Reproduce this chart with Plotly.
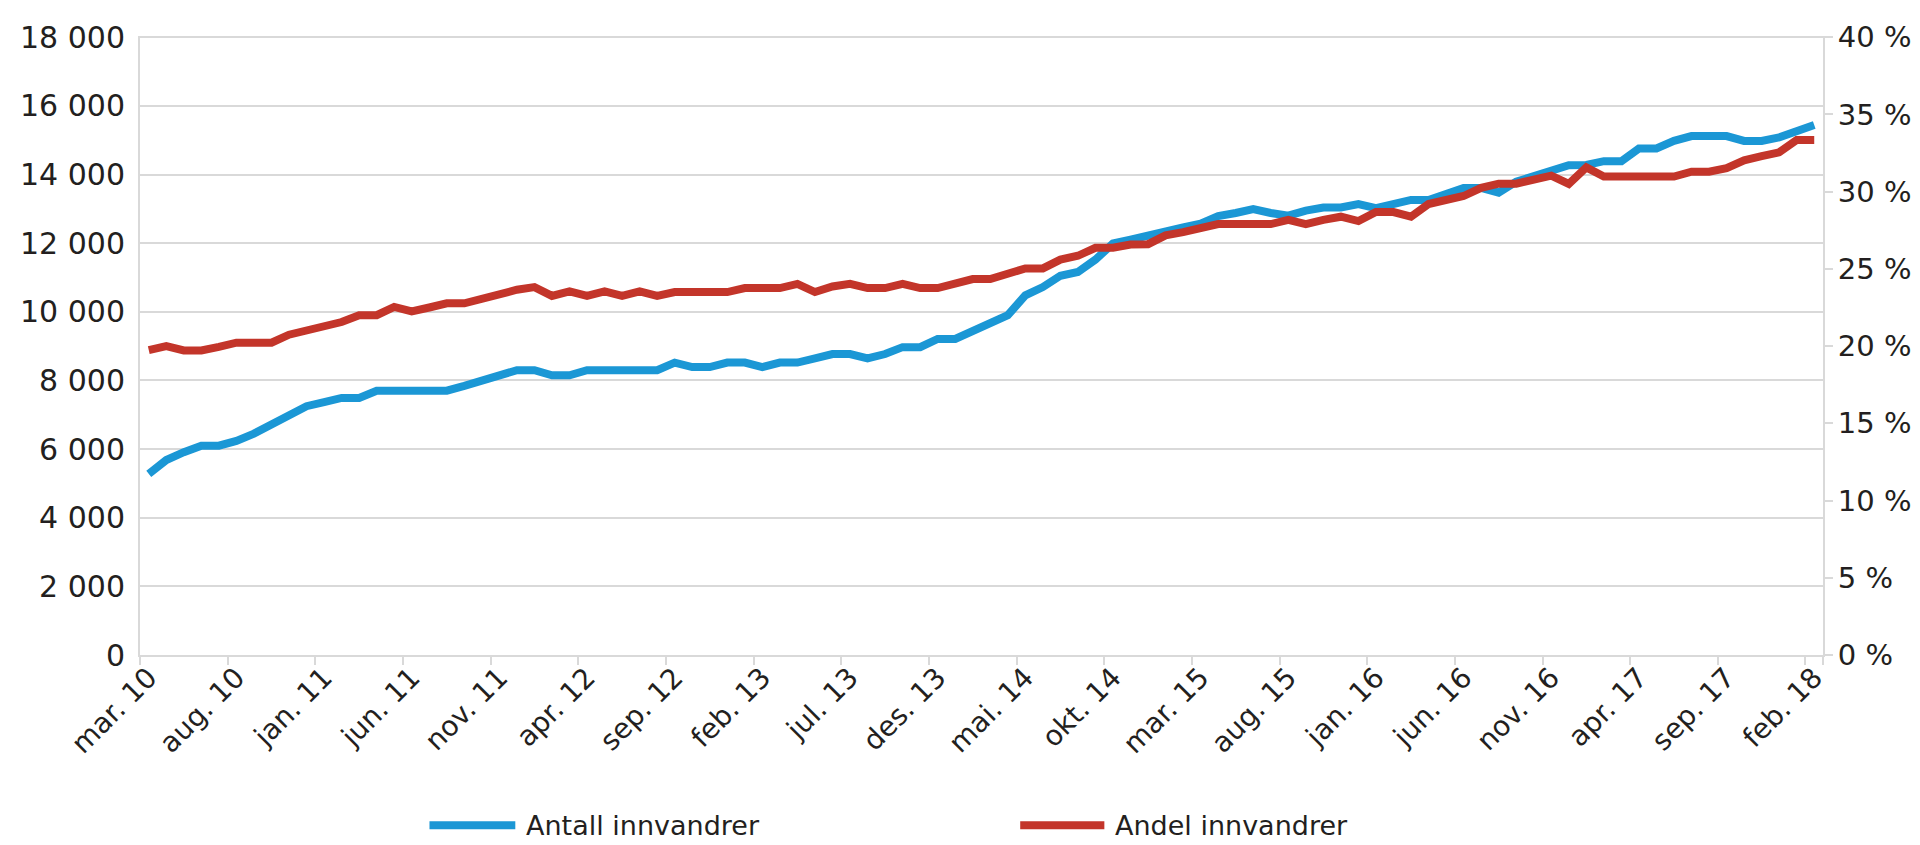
import plotly.graph_objects as go

# Monthly categories mar. 10 .. feb. 18 (96 months)
month_names = ["jan.", "feb.", "mar.", "apr.", "mai.", "jun.", "jul.", "aug.", "sep.", "okt.", "nov.", "des."]
months = [f"{month_names[(2 + k) % 12]} {10 + (2 + k) // 12}" for k in range(96)]

tick_labels = ["mar. 10", "aug. 10", "jan. 11", "jun. 11", "nov. 11", "apr. 12", "sep. 12",
               "feb. 13", "jul. 13", "des. 13", "mai. 14", "okt. 14", "mar. 15", "aug. 15",
               "jan. 16", "jun. 16", "nov. 16", "apr. 17", "sep. 17", "feb. 18"]

left_ticks = [0, 2000, 4000, 6000, 8000, 10000, 12000, 14000, 16000, 18000]
right_ticks = [0, 5, 10, 15, 20, 25, 30, 35, 40]

antall = [5280, 5680, 5910, 6100, 6100, 6240, 6450, 6710, 6950, 7250,
          7370, 7490, 7490, 7700, 7700, 7700, 7700, 7700, 7840, 7980,
          8130, 8300, 8300, 8150, 8150, 8300, 8300, 8300, 8300, 8300,
          8520, 8390, 8390, 8520, 8520, 8390, 8520, 8520, 8640, 8770,
          8770, 8640, 8770, 8970, 8970, 9210, 9210, 9430, 9680, 9900,
          10480, 10720, 11050, 11160, 11520, 11990, 12100, 12240, 12360, 12460,
          12570, 12790, 12880, 12990, 12880, 12800, 12950, 13040, 13040, 13140,
          13020, 13140, 13260, 13260, 13420, 13610, 13610, 13470, 13790, 13950,
          14080, 14270, 14280, 14390, 14390, 14760, 14760, 14980, 15120, 15120,
          15120, 14980, 14980, 15080, 15230, 15440]

andel = [19.74, 20.0, 19.72, 19.72, 19.95, 20.22, 20.22, 20.22, 20.74, 20.99,
         21.27, 21.56, 22.0, 22.0, 22.54, 22.25, 22.5, 22.77, 22.77, 23.09,
         23.4, 23.65, 23.82, 23.25, 23.55, 23.25, 23.55, 23.25, 23.55, 23.25,
         23.5, 23.5, 23.5, 23.5, 23.76, 23.76, 23.76, 24.03, 23.5, 23.86,
         24.03, 23.76, 23.76, 24.03, 23.76, 23.76, 24.07, 24.34, 24.34, 24.65,
         25.03, 25.03, 25.6, 25.85, 26.37, 26.37, 26.58, 26.6, 27.17, 27.38,
         27.63, 27.9, 27.9, 27.9, 27.9, 28.17, 27.9, 28.17, 28.38, 28.1,
         28.68, 28.68, 28.38, 29.2, 29.47, 29.72, 30.25, 30.52, 30.52, 30.77,
         31.04, 30.5, 31.57, 30.98, 30.98, 30.98, 30.98, 30.98, 31.29, 31.29,
         31.52, 32.03, 32.3, 32.55, 33.34, 33.34]

series_names = ["Antall innvandrer", "Andel innvandrer"]
BLUE = "#1B97D5"
RED = "#C3352A"
GRID = "#D9D9D9"
TXT = "#231F20"
FONT = "DejaVu Sans"

x = list(range(len(months)))
tick_pos = [months.index(t) for t in tick_labels]
boundaries = [p - 0.5 for p in tick_pos] + [len(months) - 0.5]

fig = go.Figure()
fig.add_trace(go.Scatter(x=x, y=antall, mode="lines", name=series_names[0],
                         line=dict(color=BLUE, width=8), customdata=months,
                         hovertemplate="%{customdata}: %{y}<extra></extra>"))
fig.add_trace(go.Scatter(x=x, y=andel, mode="lines", name=series_names[1], yaxis="y2",
                         line=dict(color=RED, width=8), customdata=months,
                         hovertemplate="%{customdata}: %{y} %<extra></extra>"))

fig.update_layout(
    width=1920, height=845,
    margin=dict(l=117, r=105, t=12, b=198),
    paper_bgcolor="white", plot_bgcolor="white",
    showlegend=False,
    font=dict(family=FONT, size=28, color=TXT),
    xaxis=dict(
        range=[-0.5, len(months) - 0.5],
        tickmode="array", tickvals=tick_pos, ticktext=tick_labels,
        tickangle=-45, ticks="", showgrid=False, zeroline=False,
        showline=True, linecolor=GRID, linewidth=2,
        tickfont=dict(size=28, color=TXT), ticklabelstandoff=-7,
        minor=dict(tickmode="array", tickvals=boundaries, ticks="outside",
                   ticklen=8, tickwidth=1.5, tickcolor=GRID, showgrid=False),
    ),
    yaxis=dict(
        range=[0, 18036], tickmode="array", tickvals=left_ticks,
        ticktext=[f"{v:,}".replace(",", " ") for v in left_ticks],
        showgrid=True, gridcolor=GRID, gridwidth=1.5,
        zeroline=False, showline=True, linecolor=GRID, linewidth=2,
        ticks="", ticklabelstandoff=7, ticklabeloverflow="allow",
        tickfont=dict(size=30, color=TXT),
    ),
    yaxis2=dict(
        range=[0, 40.08], tickmode="array", tickvals=right_ticks,
        ticktext=[f"{v} %" for v in right_ticks],
        overlaying="y", side="right",
        showgrid=False, zeroline=False, showline=True, linecolor=GRID, linewidth=2,
        ticks="outside", ticklen=8, tickwidth=1.5, tickcolor=GRID,
        ticklabelstandoff=-1, ticklabeloverflow="allow",
        tickfont=dict(size=29, color=TXT),
    ),
)

# Legend drawn below the plot (long line samples as in the original)
legend_y = -0.275
legend_items = [(series_names[0], BLUE, 0.172, 0.223), (series_names[1], RED, 0.523, 0.573)]
for name, col, x0, x1 in legend_items:
    fig.add_shape(type="line", xref="paper", yref="paper", x0=x0, x1=x1, y0=legend_y, y1=legend_y,
                  line=dict(color=col, width=8))
    fig.add_annotation(xref="paper", yref="paper", x=x1 + 0.005, y=legend_y, text=name,
                       showarrow=False, xanchor="left", yanchor="middle",
                       font=dict(family=FONT, size=27, color=TXT))

fig.write_html("out.html")
